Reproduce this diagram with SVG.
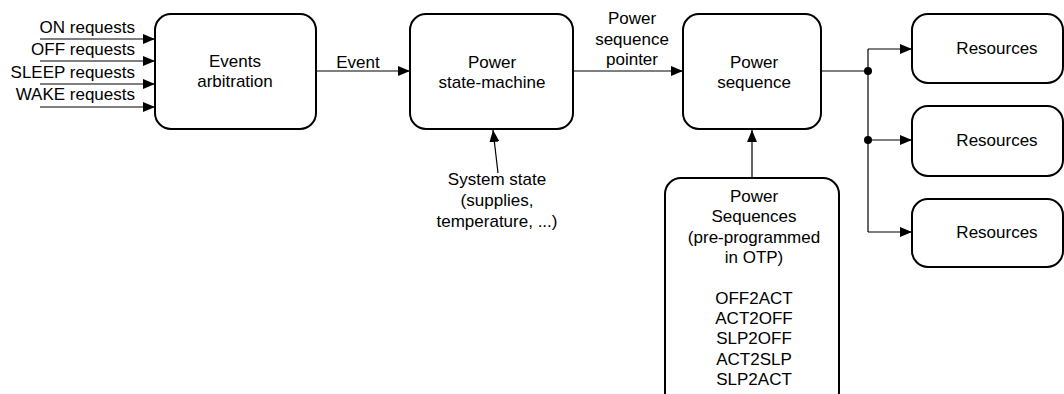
<svg xmlns="http://www.w3.org/2000/svg" width="1064" height="394" viewBox="0 0 1064 394">
<style>
.box{fill:#fff;stroke:#000;stroke-width:2}
.ln{fill:none;stroke:#000;stroke-width:1.2}
text{font-family:"Liberation Sans",Arial,sans-serif;font-size:17px;fill:#000}
.c{text-anchor:middle}
.r{text-anchor:end}
</style>
<defs>
<marker id="ah" markerUnits="userSpaceOnUse" markerWidth="12" markerHeight="10" refX="12" refY="5" orient="auto">
<path d="M0,0 L12,5 L0,10 z" fill="#000"/>
</marker>
</defs>
<rect width="1064" height="394" fill="#fff"/>
<g id="connectors">
<line class="ln" x1="40" y1="39" x2="155" y2="39" marker-end="url(#ah)"/>
<line class="ln" x1="40" y1="61" x2="155" y2="61" marker-end="url(#ah)"/>
<line class="ln" x1="40" y1="84" x2="155" y2="84" marker-end="url(#ah)"/>
<line class="ln" x1="40" y1="107" x2="155" y2="107" marker-end="url(#ah)"/>
<line class="ln" x1="316" y1="71" x2="410" y2="71" marker-end="url(#ah)"/>
<line class="ln" x1="573" y1="71" x2="683" y2="71" marker-end="url(#ah)"/>
<line class="ln" x1="498" y1="173" x2="493" y2="130" marker-end="url(#ah)"/>
<line class="ln" x1="752" y1="178" x2="752" y2="130" marker-end="url(#ah)"/>
<line class="ln" x1="821" y1="71" x2="868" y2="71"/>
<line class="ln" x1="868" y1="49" x2="868" y2="232"/>
<line class="ln" x1="868" y1="49" x2="912" y2="49" marker-end="url(#ah)"/>
<line class="ln" x1="868" y1="140" x2="912" y2="140" marker-end="url(#ah)"/>
<line class="ln" x1="868" y1="232" x2="912" y2="232" marker-end="url(#ah)"/>
<circle cx="868" cy="71" r="4" fill="#000"/>
<circle cx="868" cy="140" r="4" fill="#000"/>
<text class="r" x="135" y="33">ON requests</text>
<text class="r" x="135" y="55">OFF requests</text>
<text class="r" x="135" y="78">SLEEP requests</text>
<text class="r" x="135" y="100">WAKE requests</text>
<text class="c" x="358" y="68">Event</text>
<text class="c" x="632" y="24">Power</text>
<text class="c" x="632" y="45">sequence</text>
<text class="c" x="632" y="65">pointer</text>
<text class="c" x="497" y="185">System state</text>
<text class="c" x="497" y="206">(supplies,</text>
<text class="c" x="497" y="227">temperature, ...)</text>
</g>
<g id="events-arbitration">
<rect class="box" x="155" y="14" width="161" height="115" rx="16"/>
<text class="c" x="235" y="67">Events</text>
<text class="c" x="235" y="87">arbitration</text>
</g>
<g id="power-state-machine">
<rect class="box" x="410" y="14" width="163" height="115" rx="16"/>
<text class="c" x="492" y="68">Power</text>
<text class="c" x="492" y="88">state-machine</text>
</g>
<g id="power-sequence">
<rect class="box" x="683" y="14" width="138" height="115" rx="16"/>
<text class="c" x="754" y="68">Power</text>
<text class="c" x="754" y="88">sequence</text>
</g>
<g id="power-sequences">
<rect class="box" x="665" y="178" width="174" height="230" rx="16"/>
<text class="c" x="754" y="202">Power</text>
<text class="c" x="754" y="222">Sequences</text>
<text class="c" x="754" y="243">(pre-programmed</text>
<text class="c" x="754" y="263">in OTP)</text>
<text class="c" x="754" y="304">OFF2ACT</text>
<text class="c" x="754" y="324">ACT2OFF</text>
<text class="c" x="754" y="344">SLP2OFF</text>
<text class="c" x="754" y="365">ACT2SLP</text>
<text class="c" x="754" y="385">SLP2ACT</text>
</g>
<g id="resources-1">
<rect class="box" x="912" y="14" width="151" height="69" rx="16"/>
<text class="c" x="997" y="54">Resources</text>
</g>
<g id="resources-2">
<rect class="box" x="912" y="106" width="151" height="70" rx="16"/>
<text class="c" x="997" y="146">Resources</text>
</g>
<g id="resources-3">
<rect class="box" x="912" y="199" width="151" height="68" rx="16"/>
<text class="c" x="997" y="238">Resources</text>
</g>
</svg>
